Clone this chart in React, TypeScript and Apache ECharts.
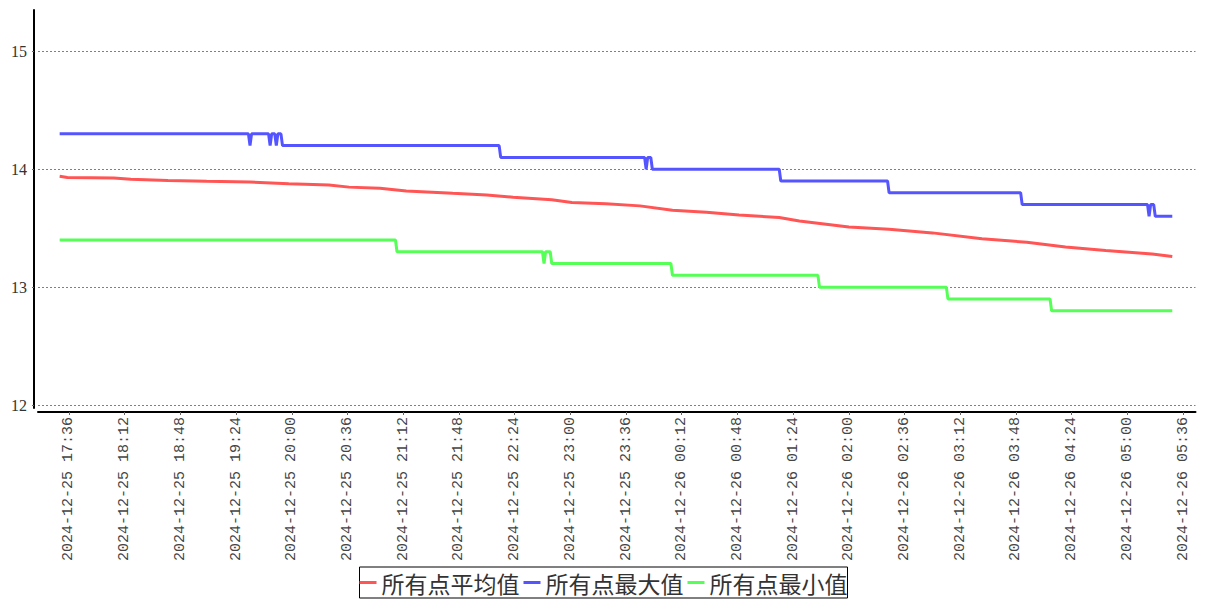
import React, { useEffect, useRef } from "react";
import * as echarts from "echarts";

// Time axis: minutes counted from 2024-12-25 17:00 (times before 17:00 belong to 12-26)
const axisStart = "17:16";
const axisEnd = "05:44";
const tickStepMinutes = 36;

const avgTimes = [
  "17:30", "17:35", "18:05", "18:16", "18:40", "19:05", "19:33", "19:58", "20:24", "20:37",
  "20:57", "21:14", "21:44", "22:06", "22:23", "22:48", "23:01", "23:23", "23:45", "00:06",
  "00:28", "00:49", "01:15", "01:28", "02:00", "02:26", "02:54", "03:26", "03:55", "04:20",
  "04:46", "05:16", "05:29",
];
const avgValues = [
  13.94, 13.93, 13.925, 13.915, 13.905, 13.898, 13.892, 13.876, 13.866, 13.848,
  13.838, 13.816, 13.796, 13.782, 13.762, 13.74, 13.718, 13.706, 13.689, 13.652,
  13.635, 13.612, 13.59, 13.56, 13.51, 13.49, 13.46, 13.41, 13.38, 13.34,
  13.31, 13.28, 13.26,
];

const maxTimes = [
  "17:30", "19:32", "19:33", "19:34", "19:45", "19:46", "19:47", "19:49", "19:50", "19:51",
  "19:53", "19:54", "22:14", "22:15", "23:48", "23:49", "23:50", "23:52", "23:53", "01:15",
  "01:16", "02:25", "02:26", "03:51", "03:52", "05:13", "05:14", "05:15", "05:17", "05:18",
  "05:29",
];
const maxValues = [
  14.3, 14.3, 14.2, 14.3, 14.3, 14.2, 14.3, 14.3, 14.2, 14.3,
  14.3, 14.2, 14.2, 14.1, 14.1, 14.0, 14.1, 14.1, 14.0, 14.0,
  13.9, 13.9, 13.8, 13.8, 13.7, 13.7, 13.6, 13.7, 13.7, 13.6,
  13.6,
];

const minTimes = [
  "17:30", "21:07", "21:08", "22:42", "22:43", "22:44", "22:47", "22:48", "00:05", "00:06",
  "01:40", "01:41", "03:03", "03:04", "04:10", "04:11", "05:29",
];
const minValues = [
  13.4, 13.4, 13.3, 13.3, 13.2, 13.3, 13.3, 13.2, 13.2, 13.1,
  13.1, 13.0, 13.0, 12.9, 12.9, 12.8, 12.8,
];

const seriesNames = ["所有点平均值", "所有点最大值", "所有点最小值"];
const seriesColors = ["#FF5555", "#5555FF", "#55FF55"];

const yMin = 11.975;
const yMax = 15.35;

function toMinutes(t: string): number {
  const [h, m] = t.split(":").map(Number);
  let total = h * 60 + m - 17 * 60;
  if (total < 0) total += 24 * 60;
  return total;
}

function pad(n: number): string {
  return n < 10 ? "0" + n : String(n);
}

function formatMinutes(v: number): string {
  const total = 17 * 60 + Math.round(v);
  const day = 25 + Math.floor(total / 1440);
  const rest = total % 1440;
  return `2024-12-${day} ${pad(Math.floor(rest / 60))}:${pad(rest % 60)}`;
}

function pairs(times: string[], values: number[]) {
  return times.map((t, i) => [toMinutes(t), values[i]]);
}

export default function App() {
  const ref = useRef<HTMLDivElement>(null);

  useEffect(() => {
    if (!ref.current) return;
    const chart = echarts.init(ref.current, null, { renderer: "svg" });
    const datasets = [
      pairs(avgTimes, avgValues),
      pairs(maxTimes, maxValues),
      pairs(minTimes, minValues),
    ];
    chart.setOption({
      animation: false,
      backgroundColor: "#ffffff",
      grid: {
        left: 38,
        right: 11.5,
        top: 10,
        bottom: 192,
        containLabel: false,
        outerBoundsMode: "none",
      },
      legend: {
        data: seriesNames.map((name) => ({ name, icon: "rect" })),
        top: 567,
        left: "center",
        itemWidth: 17,
        itemHeight: 3,
        itemGap: 4,
        padding: [4, 0],
        borderColor: "#000",
        borderWidth: 1,
        textStyle: {
          fontSize: 23,
          color: "#333",
          fontFamily: "Noto Sans CJK SC",
        },
      },
      xAxis: {
        type: "value",
        min: toMinutes(axisStart),
        max: toMinutes(axisEnd),
        minInterval: tickStepMinutes,
        maxInterval: tickStepMinutes,
        offset: 4,
        axisLine: { show: true, lineStyle: { color: "#000", width: 2 } },
        axisTick: { show: true, length: 3, lineStyle: { color: "#666" } },
        splitLine: { show: false },
        axisLabel: {
          rotate: 90,
          margin: 5,
          showMinLabel: false,
          showMaxLabel: false,
          fontFamily: "Liberation Mono",
          fontSize: 15,
          color: "#444",
          formatter: (v: number) => formatMinutes(v),
        },
      },
      yAxis: {
        type: "value",
        min: yMin,
        max: yMax,
        minInterval: 1,
        maxInterval: 1,
        offset: 4,
        axisLine: { show: true, lineStyle: { color: "#000", width: 2 } },
        axisTick: { show: true, length: 2, lineStyle: { color: "#666" } },
        splitLine: {
          show: true,
          showMinLine: false,
          showMaxLine: false,
          lineStyle: { color: "#808080", type: [2, 2], width: 1 },
        },
        axisLabel: {
          margin: 7,
          showMinLabel: false,
          showMaxLabel: false,
          fontFamily: "Liberation Serif",
          fontSize: 16,
          color: "#333",
        },
      },
      series: seriesNames.map((name, i) => ({
        name,
        type: "line",
        data: datasets[i],
        showSymbol: false,
        symbol: "none",
        color: seriesColors[i],
        lineStyle: { color: seriesColors[i], width: 3 },
      })),
    });
    return () => chart.dispose();
  }, []);

  return (
    <div
      ref={ref}
      style={{ position: "fixed", left: 0, top: 0, width: 1207, height: 600, background: "#fff" }}
    />
  );
}
